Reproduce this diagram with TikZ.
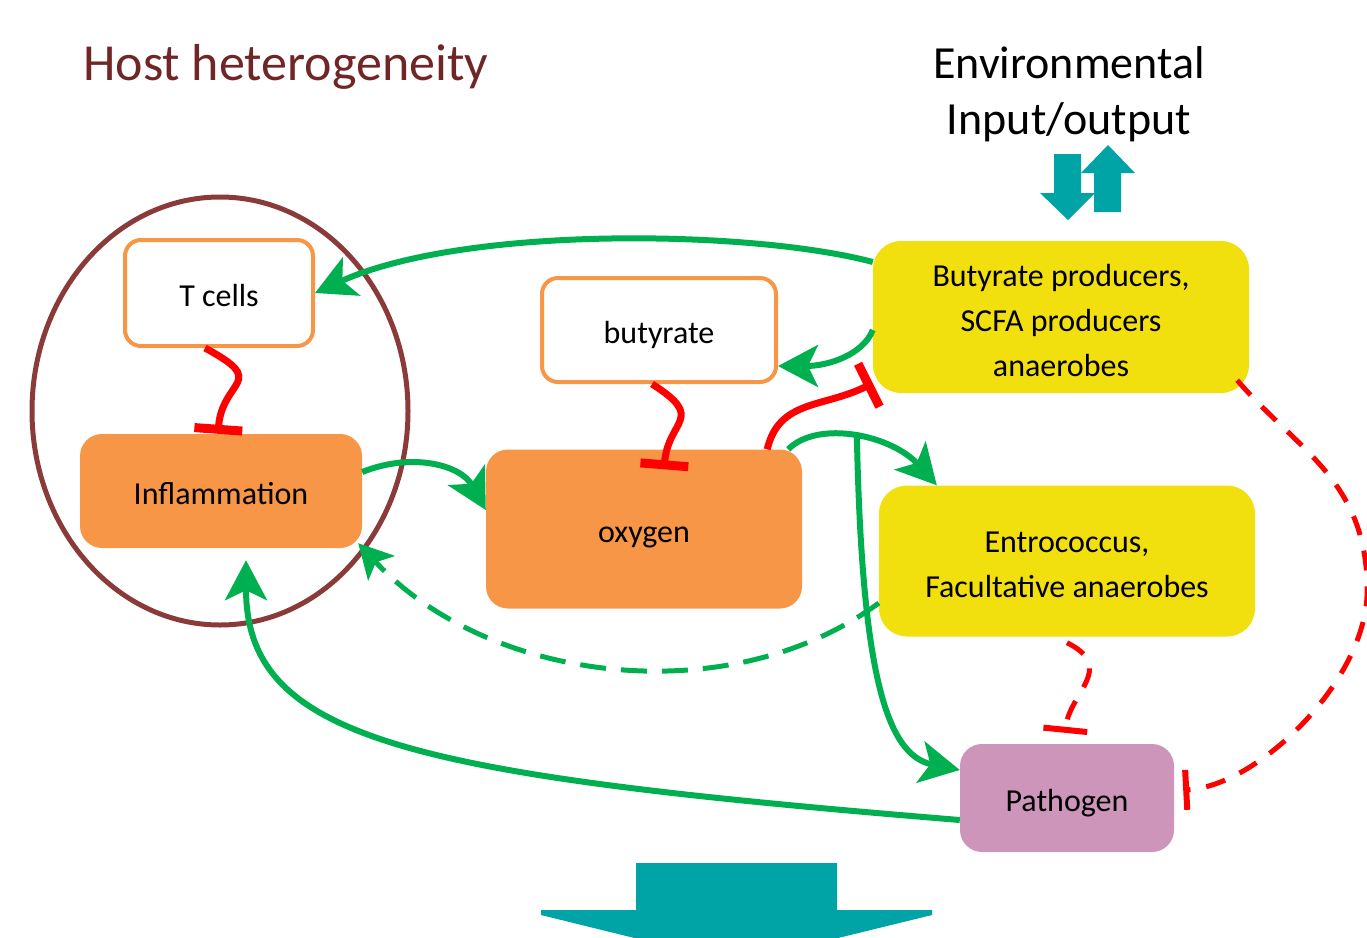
\documentclass[tikz,border=0pt]{standalone}
\usepackage{fontspec}
\setmainfont{Carlito}
\usetikzlibrary{arrows.meta,positioning}
\definecolor{boxorange}{RGB}{247,150,70}
\definecolor{boxyellow}{RGB}{242,223,14}
\definecolor{boxpink}{RGB}{205,149,185}
\definecolor{actgreen}{RGB}{0,176,80}
\definecolor{hostred}{RGB}{139,58,58}
\definecolor{titlered}{RGB}{112,38,38}
\definecolor{ioteal}{RGB}{0,164,166}
\newcommand{\diagfont}{\fontsize{32}{45}\selectfont}
\newcommand{\lowstrut}{\rule{0pt}{29pt}}
\tikzset{
  whitebox/.style={ draw=boxorange, line width=4pt, fill=white, rounded corners=16pt, text height=27pt, text depth=0pt, font=\diagfont }
}
\tikzset{
  orangebox/.style={ fill=boxorange, rounded corners=22pt, text height=27pt, text depth=0pt, font=\diagfont }
}
\tikzset{
  yellowbox/.style={ fill=boxyellow, rounded corners=28pt, align=center, font=\diagfont }
}
\tikzset{
  pinkbox/.style={ fill=boxpink, rounded corners=22pt, text height=27pt, text depth=0pt, font=\diagfont }
}
\tikzset{
  act/.style={ draw=actgreen, line width=6pt, -{Stealth[length=40pt,width=42pt,inset=10pt]} }
}
\tikzset{
  actdash/.style={ draw=actgreen, line width=5pt, dash pattern=on 26pt off 15pt, -{Stealth[length=34pt,width=36pt,inset=8pt]} }
}
\tikzset{
  inhib/.style={ draw=red, line width=7pt, -{Bar[width=48pt,line width=9pt]} }
}
\tikzset{
  inhibdash/.style={ draw=red, line width=5pt, dash pattern=on 20pt off 16pt }
}

\begin{document}
\begin{tikzpicture}[x=1pt, y=-1pt]
      \useasboundingbox (0,0) rectangle (1367,937);

      \node[anchor=base west, inner sep=0pt, text=titlered, font=\fontsize{52}{60}\selectfont] (host) at (83,80) {Host heterogeneity};
      \node[anchor=north, inner sep=0pt, align=center, font=\fontsize{46}{56}\selectfont] (envio) at (1069,46) {Environmental\\Input/output};

      % host side
      \draw[hostred, line width=5pt] (220,411) ellipse [x radius=188pt, y radius=214pt];

      \node[whitebox, minimum width=188pt, minimum height=106pt] (tcells) at (219,293) {T cells};
      \node[orangebox, minimum width=282pt, minimum height=114pt] (infl) at (221,491) {Inflammation};
      \node[whitebox, minimum width=234pt, minimum height=104pt] (butyrate) at (659,330) {butyrate};
      \node[orangebox, minimum width=316pt, minimum height=159pt] (oxygen) at (644,529) {oxygen};
      \node[yellowbox, minimum width=376pt, minimum height=152pt] (producers) at (1061,317) {\lowstrut Butyrate producers,\\SCFA producers\\anaerobes};
      \node[yellowbox, minimum width=376pt, minimum height=151pt] (faculta) at (1067,561) {\lowstrut Entrococcus,\\Facultative anaerobes};
      \node[pinkbox, minimum width=214pt, minimum height=108pt] (pathogen) at (1067,798) {Pathogen};

      \draw[act] ([yshift=55pt]producers.west) .. controls +(-120,-32) and +(150,-68) .. (tcells.east);
      \draw[act] ([yshift=-13pt]producers.west) .. controls +(-10,25) and +(50,0) .. ([yshift=-36pt]butyrate.east);

      \draw[inhib] ([xshift=-14pt]tcells.south) .. controls +(65,35) and +(4,-55) .. ([xshift=-3pt]infl.north);
      \draw[inhib] ([xshift=-7pt]butyrate.south) .. controls +(55,35) and +(4,-50) .. ([xshift=20pt,yshift=-20pt]oxygen.north);
      \draw[inhib] ([xshift=-35pt]oxygen.north east) .. controls +(12,-50) and +(-50,25) .. ([yshift=10pt]producers.south west);

      \draw[act] ([yshift=19pt]infl.east) .. controls +(50,-20) and +(-25,-45) .. ([yshift=19pt]oxygen.west);
      \draw[act] ([xshift=-14pt]oxygen.north east) .. controls +(30,-30) and +(-45,-50) .. coordinate[pos=0.5] (fork) ([xshift=58pt]faculta.north west);
      \draw[act] (fork) .. controls +(5,230) and +(-75,-15) .. ([yshift=28pt]pathogen.west);

      \draw[actdash] ([yshift=-42pt]faculta.west) .. controls +(-150,110) and +(130,140) .. ([xshift=-4pt,yshift=5pt]infl.south east);
      \draw[act] ([yshift=-22pt]pathogen.west) .. controls +(-550,-45) and +(0,180) .. ([xshift=25pt,yshift=-12pt]infl.south);

      \draw[inhibdash, -{Bar[width=44pt,line width=6pt]}] ([yshift=-6pt]faculta.south) .. controls +(50,25) and +(4,-40) .. ([xshift=-2pt,yshift=11pt]pathogen.north);
      \draw[inhibdash, -{Bar[width=40pt,line width=6pt]}] ([xshift=-12pt,yshift=13pt]producers.south east) .. controls +(60,70) and +(0,-110) .. ++(130,210)
          .. controls +(0,90) and +(75,-4) .. ([xshift=9pt,yshift=8pt]pathogen.east);

      % input / output arrows
      \fill[ioteal] (1054,154) -- (1081,154) -- (1081,193) -- (1095,193) -- (1068,220) -- (1040,193) -- (1054,193) -- cycle;
      \fill[ioteal] (1094,212) -- (1121,212) -- (1121,173) -- (1135,173) -- (1108,145) -- (1081,173) -- (1094,173) -- cycle;
      \fill[ioteal] (636,863) -- (837,863) -- (837,910) -- (932,910) -- (932,915) -- (736,963) -- (541,915) -- (541,910) -- (636,910) -- cycle;
    \end{tikzpicture}
\end{document}
